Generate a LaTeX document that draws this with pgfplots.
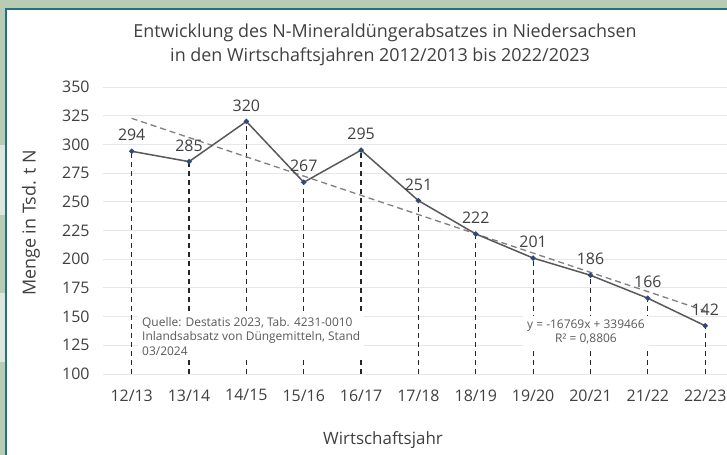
\documentclass[border=0pt]{standalone}
\usepackage{fontspec}
\setmainfont{Open Sans}
\usepackage{pgfplots}
\pgfplotsset{compat=1.18}
\definecolor{sage}{HTML}{B7CCB3}
\definecolor{sagelight}{HTML}{DDE6DA}
\definecolor{teal}{HTML}{23707F}
\definecolor{txt}{HTML}{404040}
\definecolor{txtsmall}{HTML}{595959}
\definecolor{gridc}{HTML}{E3E8EE}
\definecolor{linec}{HTML}{595959}
\definecolor{markc}{HTML}{2E4A7A}
\definecolor{dropc}{HTML}{262626}
\definecolor{trendc}{HTML}{7F7F7F}
\begin{document}
\begin{tikzpicture}
\useasboundingbox (0,0) rectangle (727bp,455bp);
\fill[white] (0,0) rectangle (727bp,455bp);
\fill[sage] (0,446bp) rectangle (727bp,455bp);
\fill[sage] (0,0) rectangle (6bp,455bp);
\fill[sagelight] (0,240bp) rectangle (5bp,310bp);
\fill[sagelight] (0,93bp) rectangle (5bp,162bp);
\draw[teal, line width=2bp] (6bp,0) -- (6bp,446bp) -- (727bp,446bp);
\node[text=txt, font=\fontsize{18}{21}\selectfont] at (385bp,422bp) {Entwicklung des N-Mineraldüngerabsatzes in Niedersachsen};
\node[text=txt, font=\fontsize{18}{21}\selectfont] at (380bp,398bp) {in den Wirtschaftsjahren 2012/2013 bis 2022/2023};
\node[text=txt, rotate=90, font=\fontsize{18}{21}\selectfont] at (31bp,232bp) {Menge in Tsd. t N};
\node[text=txt, font=\fontsize{17}{20}\selectfont] at (383bp,15bp) {Wirtschaftsjahr};
\begin{axis}[
  at={(103bp,81bp)}, anchor=south west,
  scale only axis, width=624bp, height=287bp,
  xmin=-0.5, xmax=10.38, ymin=100, ymax=350,
  xtick={0,...,10},
  xticklabels={12/13,13/14,14/15,15/16,16/17,17/18,18/19,19/20,20/21,21/22,22/23},
  ytick={100,125,...,350},
  major tick length=0pt,
  axis line style={draw=none},
  ymajorgrids, grid style={gridc, line width=0.8bp},
  tick label style={text=txt, font=\fontsize{16}{19}\selectfont},
  /pgf/number format/assume math mode=true,
  yticklabel style={xshift=-10bp},
  xticklabel style={yshift=-12bp},
  clip mode=individual,
]
\addplot[ycomb, draw=dropc, line width=1.2bp, dash pattern=on 5bp off 4bp, no marks] coordinates {
(0,294) (1,285) (2,320) (3,267) (4,295) (5,251) (6,222) (7,201) (8,186) (9,166) (10,142)};
\addplot[draw=trendc, line width=1.3bp, dash pattern=on 6bp off 4bp, no marks] coordinates {
(0,322.7) (10,155.0)};
\addplot[draw=linec, line width=1.5bp, mark=*, mark size=1.8bp, mark options={fill=markc, draw=markc},
  nodes near coords, nodes near coords style={text=txt, font=\fontsize{16}{19}\selectfont, anchor=south, inner sep=0pt, yshift=9.5bp}] coordinates {
(0,294) (1,285) (2,320) (3,267) (4,295) (5,251) (6,222) (7,201) (8,186) (9,166) (10,142)};
\node[fill=white, anchor=north west, align=left, inner sep=4bp, text=txtsmall, font=\fontsize{12}{14.5}\selectfont] at (axis cs:0.11,153.1)
 {Quelle: Destatis 2023, Tab. 4231-0010\\Inlandsabsatz von Düngemitteln, Stand\\03/2024};
\node[fill=white, align=center, inner sep=4bp, text=txtsmall, font=\fontsize{12}{14.5}\selectfont] at (axis cs:7.92,136.5)
 {y = -16769x + 339466\\R² = 0,8806};
\end{axis}
\end{tikzpicture}
\end{document}
